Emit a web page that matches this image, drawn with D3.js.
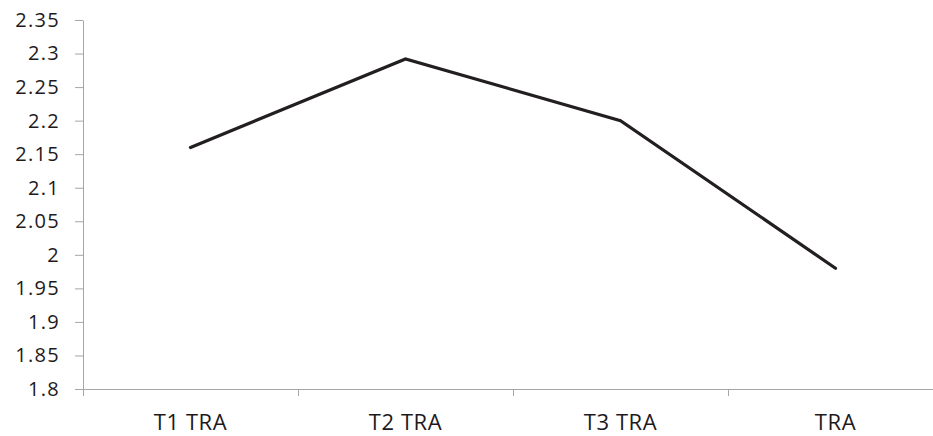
<!DOCTYPE html>
<html>
<head>
<meta charset="utf-8">
<script src="https://cdn.jsdelivr.net/npm/d3@7/dist/d3.min.js"></script>
<style>
  html, body { margin: 0; padding: 0; background: #fff; }
  svg { display: block; }
  .axis text { font-family: "Open Sans", sans-serif; fill: #1e1a1b; }
</style>
</head>
<body>
<svg id="chart" width="933" height="436"></svg>
<script>
// Categories and the single series plotted against them
const categories = ["T1 TRA", "T2 TRA", "T3 TRA", "TRA"];
const values = [2.16, 2.292, 2.2, 1.98];

// Value axis ticks and their printed labels
const yTicks = [1.8, 1.85, 1.9, 1.95, 2, 2.05, 2.1, 2.15, 2.2, 2.25, 2.3, 2.35];
const yTickLabels = ["1.8", "1.85", "1.9", "1.95", "2", "2.05", "2.1", "2.15", "2.2", "2.25", "2.3", "2.35"];

const svg = d3.select("#chart");
const plot = { left: 83, right: 943, top: 20, bottom: 389 };
const axisColor = "#a6a6a6";

const x = d3.scaleBand().domain(categories).range([plot.left, plot.right]).paddingInner(0).paddingOuter(0);
const y = d3.scaleLinear().domain([1.8, 2.35]).range([plot.bottom, plot.top]);

// Y axis
const yAxis = svg.append("g")
  .attr("class", "axis")
  .attr("transform", `translate(${plot.left},0)`)
  .call(d3.axisLeft(y)
    .tickValues(yTicks)
    .tickFormat((d, i) => yTickLabels[i])
    .tickSize(8)
    .tickSizeOuter(0)
    .tickPadding(15));
yAxis.select(".domain").attr("stroke", axisColor);
yAxis.selectAll(".tick line").attr("stroke", axisColor);
yAxis.selectAll("text")
  .style("font-size", "20px")
  .style("letter-spacing", "1.3px");

// X axis: category labels at band centres
const xAxis = svg.append("g")
  .attr("class", "axis")
  .attr("transform", `translate(0,${plot.bottom})`)
  .call(d3.axisBottom(x).tickSize(0).tickSizeOuter(0).tickPadding(25));
xAxis.select(".domain").attr("stroke", axisColor)
  .attr("d", `M${plot.left},0.5H${plot.right}`);
xAxis.selectAll("text")
  .style("font-size", "22px")
  .style("letter-spacing", "0.6px");

// Tick marks between categories
svg.append("g")
  .selectAll("line")
  .data(categories)
  .join("line")
  .attr("x1", d => Math.round(x(d)) + 0.5)
  .attr("x2", d => Math.round(x(d)) + 0.5)
  .attr("y1", plot.bottom)
  .attr("y2", plot.bottom + 7)
  .attr("stroke", axisColor);

// Series line
const line = d3.line()
  .x((d, i) => x(categories[i]) + x.bandwidth() / 2)
  .y(d => y(d));

svg.append("path")
  .datum(values)
  .attr("d", line)
  .attr("fill", "none")
  .attr("stroke", "#231f20")
  .attr("stroke-width", 3.2)
  .attr("stroke-linejoin", "miter")
  .attr("stroke-linecap", "round");
</script>
</body>
</html>
